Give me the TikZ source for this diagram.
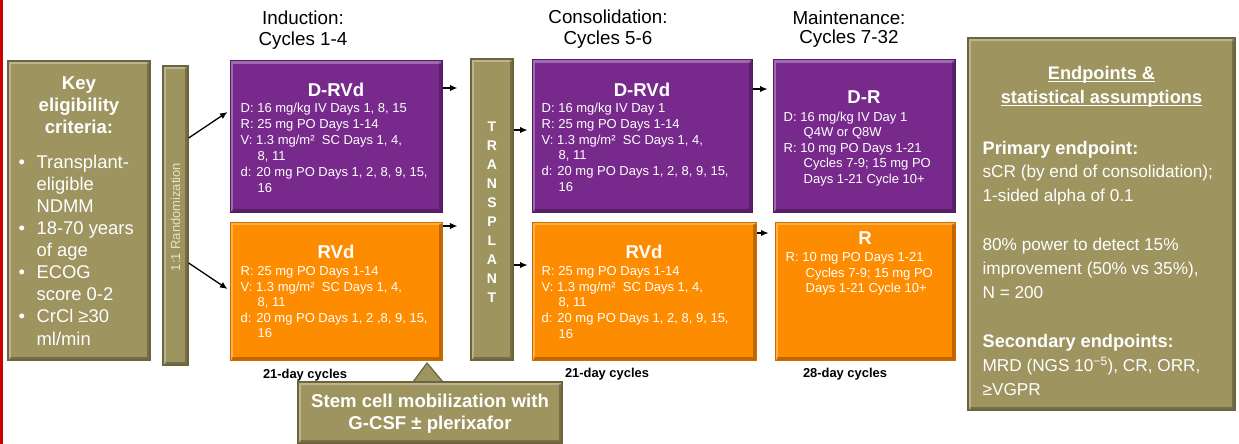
\documentclass[tikz,border=0pt]{standalone}
\usepackage{fontspec}
\setmainfont{Liberation Sans}
\usetikzlibrary{positioning,calc,arrows.meta}

\definecolor{oliveC}{RGB}{158,148,96}
\definecolor{oliveDk}{RGB}{108,100,60}
\definecolor{armD}{RGB}{120,42,140}
\definecolor{armDdk}{RGB}{84,24,100}
\definecolor{armR}{RGB}{253,140,0}
\definecolor{armRdk}{RGB}{204,108,0}
\definecolor{randtext}{RGB}{232,226,196}
\definecolor{sidered}{RGB}{204,0,0}

\newcommand{\indentx}[1][17pt]{\hspace*{#1}}
\newcommand{\ulx}[1]{\setbox0\hbox{#1}\rlap{\rule[-2.8pt]{\wd0}{1.3pt}}\box0}

\begin{document}
\begin{tikzpicture}[
    x=1pt, y=-1pt,
    >={Latex[length=7.5pt, width=6.5pt]},
    % Stile
    bevel/.style={path picture={
        \draw[white, opacity=0.3, line width=3pt] ([shift={(1.5pt,1.5pt)}]path picture bounding box.south west) |- ([shift={(-1.5pt,-1.5pt)}]path picture bounding box.north east);
        \draw[black, opacity=0.25, line width=3pt] ([shift={(1.5pt,1.5pt)}]path picture bounding box.south west) -| ([shift={(-1.5pt,-1.5pt)}]path picture bounding box.north east);
    }},
    olivebox/.style={draw=oliveDk, line width=1.2pt, fill=oliveC, inner sep=0pt, bevel},
    dbox/.style={draw=armDdk, line width=1pt, fill=armD, inner sep=0pt, bevel},
    rbox/.style={draw=armRdk, line width=1pt, fill=armR, inner sep=0pt, bevel},
    armtitle/.style={anchor=base, text=white, inner sep=0pt, font=\fontsize{18.6}{20}\selectfont\bfseries},
    dose/.style={anchor=base west, text=white, align=left, inner sep=0pt, font=\fontsize{13}{15.8}\selectfont},
    phase/.style={anchor=base, align=center, inner sep=0pt, font=\fontsize{18.8}{21}\selectfont},
    cycles/.style={anchor=base, inner sep=0pt, font=\fontsize{12.9}{14}\selectfont\bfseries},
    arrow/.style={->, line width=1.3pt}
]
\useasboundingbox (0,0) rectangle (1239,444);

% roter Rand links
\fill[sidered] (0,0) rectangle (3,444);

% --- EINSCHLUSS + RANDOMISIERUNG ---
\node[olivebox, minimum width=142pt, minimum height=299pt] (elig) at (79,210.5) {};
\node[anchor=base, align=center, text=white, inner sep=0pt, font=\fontsize{18.6}{22}\selectfont\bfseries] (eligtitle) at ($(elig.north)+(0,73.5)$) {Key\\eligibility\\criteria:};
\node[anchor=base west, align=left, text=white, inner sep=0pt, font=\fontsize{18.4}{22.1}\selectfont] (eligitems) at ($(elig.north west)+(11,284.6)$)
  {\makebox[18pt][l]{\textbullet}Transplant-\\\indentx[18pt]eligible\\\indentx[18pt]NDMM\\\makebox[18pt][l]{\textbullet}18-70 years\\\indentx[18pt]of age\\\makebox[18pt][l]{\textbullet}ECOG\\\indentx[18pt]score 0-2\\\makebox[18pt][l]{\textbullet}CrCl ≥30\\\indentx[18pt]ml/min};

\node[olivebox, minimum width=25pt, minimum height=299pt] (rand) at (175.5,215.5) {};
\node[rotate=90, text=randtext, inner sep=0pt, font=\fontsize{13}{14}\selectfont] (randlabel) at ($(rand.center)+(0,1.5)$) {1:1 Randomization};

% --- INDUKTION ---
\node[dbox, minimum width=212pt, minimum height=151pt] (indD) at (336,136.5) {};
\node[armtitle] (indDt) at ($(indD.north)+(0,35.5)$) {D-RVd};
\node[dose, font=\fontsize{13}{15.9}\selectfont] (indDb) at ($(indD.north west)+(11,131.5)$) {D: 16 mg/kg IV Days 1, 8, 15\\R: 25 mg PO Days 1-14\\V: 1.3 mg/m²~ SC Days 1, 4,\\\indentx 8, 11\\d: 20 mg PO Days 1, 2, 8, 9, 15,\\\indentx 16};

\node[rbox, minimum width=212pt, minimum height=138pt] (indR) at (336,291) {};
\node[armtitle] (indRt) at ($(indR.north)+(0,36.5)$) {RVd};
\node[dose, font=\fontsize{13}{15.4}\selectfont] (indRb) at ($(indR.north west)+(11,116)$) {R: 25 mg PO Days 1-14\\V: 1.3 mg/m²~ SC Days 1, 4,\\\indentx 8, 11\\d: 20 mg PO Days 1, 2 ,8, 9, 15,\\\indentx 16};

\node[phase] (indhead) at ($(indD.north)+(-33,-14.5)$) {Induction:\\Cycles 1-4};
\node[cycles] (indcyc) at ($(indR.south)+(-31,18)$) {21-day cycles};

% --- TRANSPLANT ---
\node[olivebox, minimum width=42pt, minimum height=301pt] (tx) at (492,209.5) {};
\node[anchor=base, align=center, text=white, inner sep=0pt, font=\fontsize{14}{18.9}\selectfont\bfseries] (txlabel) at ($(tx.north)+(0,243.6)$) {T\\R\\A\\N\\S\\P\\L\\A\\N\\T};

% --- KONSOLIDIERUNG ---
\node[dbox, minimum width=220pt, minimum height=152pt] (conD) at (642,136) {};
\node[armtitle] (conDt) at ($(conD.north)+(0,36.5)$) {D-RVd};
\node[dose] (conDb) at ($(conD.north west)+(10,132)$) {D: 16 mg/kg IV Day 1\\R: 25 mg PO Days 1-14\\V: 1.3 mg/m²~ SC Days 1, 4,\\\indentx 8, 11\\d: 20 mg PO Days 1, 2, 8, 9, 15,\\\indentx 16};

\node[rbox, minimum width=224pt, minimum height=138pt] (conR) at (644,291) {};
\node[armtitle] (conRt) at ($(conR.north)+(0,36.5)$) {RVd};
\node[dose, font=\fontsize{13}{15.6}\selectfont] (conRb) at ($(conR.north west)+(10,116.5)$) {R: 25 mg PO Days 1-14\\V: 1.3 mg/m²~ SC Days 1, 4,\\\indentx 8, 11\\d: 20 mg PO Days 1, 2, 8, 9, 15,\\\indentx 16};

\node[phase] (conhead) at ($(conD.north)+(-34,-14.5)$) {Consolidation:\\Cycles 5-6};
\node[cycles] (concyc) at ($(conR.south)+(-37,17)$) {21-day cycles};

% --- ERHALTUNG ---
\node[dbox, minimum width=182pt, minimum height=152pt] (mntD) at (864,136) {};
\node[armtitle] (mntDt) at ($(mntD.north)+(0,43.5)$) {D-R};
\node[dose, font=\fontsize{13}{15.4}\selectfont] (mntDb) at ($(mntD.north west)+(11,123.5)$) {D: 16 mg/kg IV Day 1\\\indentx[20pt]Q4W or Q8W\\R: 10 mg PO Days 1-21\\\indentx[20pt]Cycles 7-9; 15 mg PO\\\indentx[20pt]Days 1-21 Cycle 10+};

\node[rbox, minimum width=180pt, minimum height=138pt] (mntR) at (865,291) {};
\node[armtitle] (mntRt) at ($(mntR.north)+(0,22.5)$) {R};
\node[dose, font=\fontsize{13}{15.5}\selectfont] (mntRb) at ($(mntR.north west)+(11,71)$) {R: 10 mg PO Days 1-21\\\indentx[20pt]Cycles 7-9; 15 mg PO\\\indentx[20pt]Days 1-21 Cycle 10+};

\node[phase, font=\fontsize{18.8}{19}\selectfont] (mnthead) at ($(mntD.north)+(-15,-15.5)$) {Maintenance:\\Cycles 7-32};
\node[cycles] (mntcyc) at ($(mntR.south)+(-20,17)$) {28-day cycles};

% --- ENDPUNKTE ---
\node[olivebox, minimum width=267pt, minimum height=372pt] (endp) at (1101.5,224) {};
\node[anchor=base, align=center, text=white, inner sep=0pt, font=\fontsize{18.2}{24.3}\selectfont\bfseries] (endptitle) at ($(endp.north)+(0,66)$) {\ulx{Endpoints \&}\\\ulx{statistical assumptions}};
\node[anchor=base west, align=left, text=white, inner sep=0pt, font=\fontsize{17.2}{23.7}\selectfont] (endpbody) at ($(endp.north west)+(15,357.6)$)
  {{\fontsize{18.2}{23.7}\selectfont\bfseries Primary endpoint:}\\sCR (by end of consolidation);\\1-sided alpha of 0.1\\[25.6pt]80\% power to detect 15\%\\improvement (50\% vs 35\%),\\N = 200\\[25.6pt]{\fontsize{18.2}{23.7}\selectfont\bfseries Secondary endpoints:}\\MRD (NGS 10\textsuperscript{−5}), CR, ORR,\\≥VGPR};

% --- STAMMZELLMOBILISIERUNG ---
\path[draw=oliveDk, line width=1.2pt, fill=oliveC] (430,382) ++(-17,0) -- ++(14,-19) -- ++(16,19) -- cycle;
\node[olivebox, minimum width=264pt, minimum height=61pt] (stem) at (430,412.5) {};
\node[text=white, align=center, inner sep=0pt, font=\fontsize{18.6}{22}\selectfont\bfseries] (stemlabel) at ($(stem.center)+(0,1)$) {Stem cell mobilization with\\G-CSF ± plerixafor};

% Pfeile
\coordinate (iD) at ($(indD.east)+(0,-48.5)$);
\coordinate (iR) at ($(indR.east)+(0,-65)$);
\coordinate (tD) at ($(tx.east)+(0,-79.5)$);
\coordinate (tR) at ($(tx.east)+(0,55.5)$);
\coordinate (cD) at ($(conD.east)+(0,-47)$);
\coordinate (cR) at ($(conR.east)+(0,-58)$);
\draw[arrow] ($(rand.east)+(0,-77.5)$) -- ($(indD.west)+(-2,-24.5)$);
\draw[arrow] ($(rand.east)+(0,47.5)$) -- ($(indR.west)+(-2,-2)$);
\draw[arrow, shorten >=13pt] (iD) -- (iD -| tx.west);
\draw[arrow, shorten >=13pt] (iR) -- (iR -| tx.west);
\draw[arrow, shorten >=4pt] (tD) -- (tD -| conD.west);
\draw[arrow, shorten >=4pt] (tR) -- (tR -| conR.west);
\draw[arrow, shorten >=5pt] (cD) -- (cD -| mntD.west);
\draw[arrow, shorten >=6pt] (cR) -- (cR -| mntR.west);

\end{tikzpicture}
\end{document}
